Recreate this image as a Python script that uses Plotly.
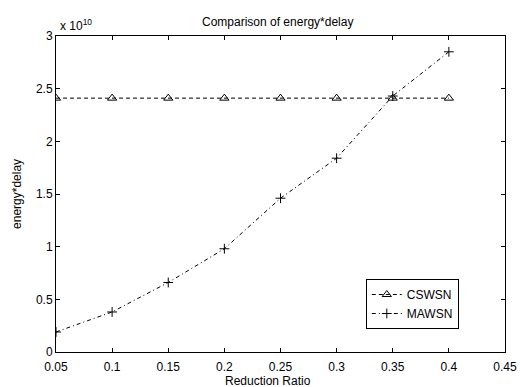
import plotly.graph_objects as go

ratio = [0.05, 0.10, 0.15, 0.20, 0.25, 0.30, 0.35, 0.40]
cswsn = [2.41e10, 2.41e10, 2.41e10, 2.41e10, 2.41e10, 2.41e10, 2.41e10, 2.41e10]
mawsn = [0.19e10, 0.38e10, 0.66e10, 0.98e10, 1.46e10, 1.84e10, 2.43e10, 2.85e10]
x_ticks = [0.05, 0.1, 0.15, 0.2, 0.25, 0.3, 0.35, 0.4, 0.45]
x_ticklabels = ["0.05", "0.1", "0.15", "0.2", "0.25", "0.3", "0.35", "0.4", "0.45"]
y_ticks = [0, 0.5e10, 1e10, 1.5e10, 2e10, 2.5e10, 3e10]
y_ticklabels = ["0", "0.5", "1", "1.5", "2", "2.5", "3"]

FONT = "Liberation Sans, Arial, sans-serif"
TXT = dict(family=FONT, size=12, color="black")

fig = go.Figure()
fig.add_trace(go.Scatter(
    x=ratio, y=cswsn, name="CSWSN", mode="lines+markers",
    line=dict(color="black", width=1, dash="4px,3px"),
    marker=dict(symbol="triangle-up-open", size=8, color="black", line=dict(width=1)),
))
fig.add_trace(go.Scatter(
    x=ratio, y=mawsn, name="MAWSN", mode="lines+markers",
    line=dict(color="black", width=1, dash="4px,3px,1px,3px"),
    marker=dict(symbol="cross-thin-open", size=7, color="black", line=dict(width=1, color="black")),
))

axis_common = dict(
    showline=True, linecolor="black", linewidth=1, mirror="ticks", automargin=False,
    ticks="inside", ticklen=4, tickcolor="black", showgrid=False, zeroline=False,
    tickfont=TXT, ticklabeloverflow="allow",
)
fig.update_xaxes(range=[0.05, 0.4500001], tickvals=x_ticks, ticktext=x_ticklabels,
                 ticklabelstandoff=4, **axis_common)
fig.update_yaxes(range=[0, 3e10], tickvals=y_ticks, ticktext=y_ticklabels, **axis_common)

# multiplier, titles
fig.add_annotation(x=0, y=1, xref="paper", yref="paper", xanchor="left", yanchor="bottom",
                   text="x 10<sup>10</sup>", showarrow=False, xshift=2, yshift=1, font=TXT)
fig.add_annotation(x=0.493, y=1.044, xref="paper", yref="paper", xanchor="center", yanchor="middle",
                   text="Comparison of energy*delay", showarrow=False, font=TXT)
fig.add_annotation(x=0.472, y=-0.092, xref="paper", yref="paper", xanchor="center", yanchor="middle",
                   text="Reduction Ratio", showarrow=False, font=TXT)
fig.add_annotation(x=-0.087, y=0.5, xref="paper", yref="paper", xanchor="center", yanchor="middle",
                   text="energy*delay", textangle=-90, showarrow=False, font=TXT)

fig.update_layout(
    width=520, height=387,
    margin=dict(l=56, r=15, t=36, b=35),
    paper_bgcolor="white", plot_bgcolor="white",
    legend=dict(x=0.69, y=0.231, xanchor="left", yanchor="top",
                bordercolor="black", borderwidth=1, bgcolor="white",
                font=TXT, tracegroupgap=0, itemwidth=30),
    showlegend=True,
)

fig.write_html("out.html", config={"displayModeBar": False},
               post_script="document.body.style.margin='0';document.body.style.overflow='hidden';")
